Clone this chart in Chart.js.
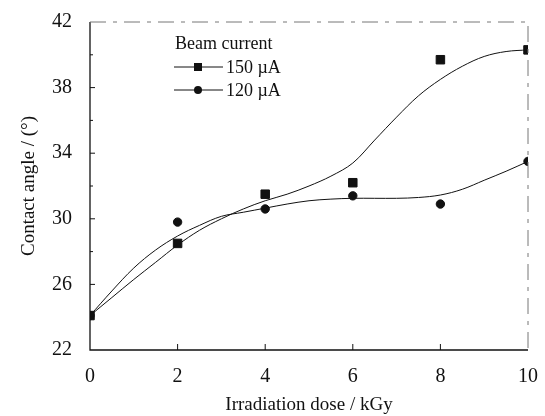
<!DOCTYPE html>
<html>
<head>
<meta charset="utf-8">
<script src="https://cdn.jsdelivr.net/npm/chart.js@4"></script>
<style>
  html, body { margin: 0; padding: 0; background: #fff; }
  #wrap { width: 545px; height: 416px; }
</style>
</head>
<body>
<div id="wrap"><canvas id="chart" width="545" height="416"></canvas></div>
<script>
// measured points
const dose = [0, 2, 4, 6, 8, 10];
const angle150 = [24.1, 28.5, 31.5, 32.2, 39.7, 40.3];
const angle120 = [24.1, 29.8, 30.6, 31.4, 30.9, 33.5];

// fitted curves
const doseFit = [0, 0.5, 1, 1.5, 2, 2.5, 3, 3.5, 4, 4.5, 5, 5.5, 6, 6.5, 7, 7.5, 8, 8.5, 9, 9.5, 10];
const fit150 = [24.1, 25.2, 26.3, 27.35, 28.4, 29.3, 30.0, 30.6, 31.1, 31.5, 32.0, 32.6, 33.4, 34.8, 36.2, 37.5, 38.5, 39.3, 39.9, 40.2, 40.3];
const fit120 = [24.1, 25.6, 27.0, 28.1, 28.95, 29.6, 30.15, 30.4, 30.65, 30.9, 31.1, 31.2, 31.25, 31.25, 31.25, 31.3, 31.45, 31.8, 32.35, 32.9, 33.5];

const xTicks = [0, 2, 4, 6, 8, 10];
const yTicks = [22, 26, 30, 34, 38, 42];

const serif = '"Liberation Serif", "DejaVu Serif", serif';

const toXY = (xs, ys) => xs.map((x, i) => ({ x: x, y: ys[i] }));

// ticks pointing into the plot, plus frame
const frame = {
  id: 'frame',
  afterDatasetsDraw(chart) {
    const { ctx, chartArea: a, scales } = chart;
    ctx.save();
    ctx.strokeStyle = '#111';
    ctx.lineWidth = 1.3;
    ctx.beginPath();
    ctx.moveTo(a.left, a.top);
    ctx.lineTo(a.left, a.bottom);
    ctx.lineTo(a.right, a.bottom);
    ctx.stroke();
    ctx.strokeStyle = '#777';
    ctx.lineWidth = 1;
    ctx.setLineDash([16, 7, 4, 7]);
    ctx.beginPath();
    ctx.moveTo(a.left, a.top);
    ctx.lineTo(a.right, a.top);
    ctx.lineTo(a.right, a.bottom);
    ctx.stroke();
    ctx.setLineDash([]);
    ctx.strokeStyle = '#111';
    ctx.beginPath();
    for (let v = 24; v < 42; v += 2) {
      const y = scales.y.getPixelForValue(v);
      ctx.moveTo(a.left, y);
      ctx.lineTo(a.left + (yTicks.includes(v) ? 5 : 3), y);
    }
    xTicks.slice(1, -1).forEach(v => {
      const x = scales.x.getPixelForValue(v);
      ctx.moveTo(x, a.bottom);
      ctx.lineTo(x, a.bottom - 6);
    });
    ctx.stroke();
    ctx.restore();
  }
};

const legendBox = {
  id: 'legendBox',
  afterDraw(chart) {
    const ctx = chart.ctx;
    ctx.save();
    ctx.fillStyle = '#111';
    ctx.strokeStyle = '#111';
    ctx.font = '18px ' + serif;
    ctx.textBaseline = 'middle';
    ctx.fillText('Beam current', 175, 44);
    const rows = [['150 \u00b5A', 'rect', 67], ['120 \u00b5A', 'circle', 90]];
    rows.forEach(([label, shape, y]) => {
      ctx.lineWidth = 1;
      ctx.beginPath();
      ctx.moveTo(174, y);
      ctx.lineTo(223, y);
      ctx.stroke();
      ctx.beginPath();
      if (shape === 'rect') {
        ctx.rect(194, y - 4, 8, 8);
      } else {
        ctx.arc(198, y, 4, 0, Math.PI * 2);
      }
      ctx.fill();
      ctx.fillText(label, 226, y + 1);
    });
    ctx.restore();
  }
};

new Chart(document.getElementById('chart'), {
  type: 'scatter',
  data: {
    datasets: [
      {
        label: '150 fit',
        type: 'line',
        data: toXY(doseFit, fit150),
        borderColor: '#111',
        borderWidth: 1,
        pointRadius: 0,
        tension: 0.35,
        fill: false
      },
      {
        label: '120 fit',
        type: 'line',
        data: toXY(doseFit, fit120),
        borderColor: '#111',
        borderWidth: 1,
        pointRadius: 0,
        tension: 0.35,
        fill: false
      },
      {
        label: '150 \u00b5A',
        data: toXY(dose, angle150),
        pointStyle: 'rect',
        pointRadius: 6,
        backgroundColor: '#111',
        borderColor: '#111'
      },
      {
        label: '120 \u00b5A',
        data: toXY(dose, angle120),
        pointStyle: 'circle',
        pointRadius: 4.2,
        backgroundColor: '#111',
        borderColor: '#111'
      }
    ]
  },
  options: {
    responsive: false,
    animation: false,
    layout: { padding: { top: 16, right: 11, left: 18, bottom: 0 } },
    plugins: {
      legend: { display: false },
      tooltip: { enabled: false }
    },
    scales: {
      x: {
        type: 'linear',
        min: 0,
        max: 10,
        afterBuildTicks: s => { s.ticks = xTicks.map(v => ({ value: v })); },
        afterFit: s => { s.height = 66; },
        grid: { display: false },
        border: { display: false },
        ticks: {
          color: '#111',
          font: { family: serif, size: 20 },
          padding: 7
        },
        title: {
          display: true,
          text: 'Irradiation dose / kGy',
          color: '#111',
          font: { family: serif, size: 19 },
          padding: { top: 2, bottom: 0 }
        }
      },
      y: {
        type: 'linear',
        min: 22,
        max: 42,
        afterBuildTicks: s => { s.ticks = yTicks.map(v => ({ value: v })); },
        afterFit: s => { s.width = 72; },
        grid: { display: false },
        border: { display: false },
        ticks: {
          color: '#111',
          font: { family: serif, size: 20 },
          padding: 10
        },
        title: {
          display: true,
          text: 'Contact angle / (\u00b0)',
          color: '#111',
          font: { family: serif, size: 19 },
          padding: { top: 0, bottom: 4 }
        }
      }
    }
  },
  plugins: [frame, legendBox]
});
</script>
</body>
</html>
